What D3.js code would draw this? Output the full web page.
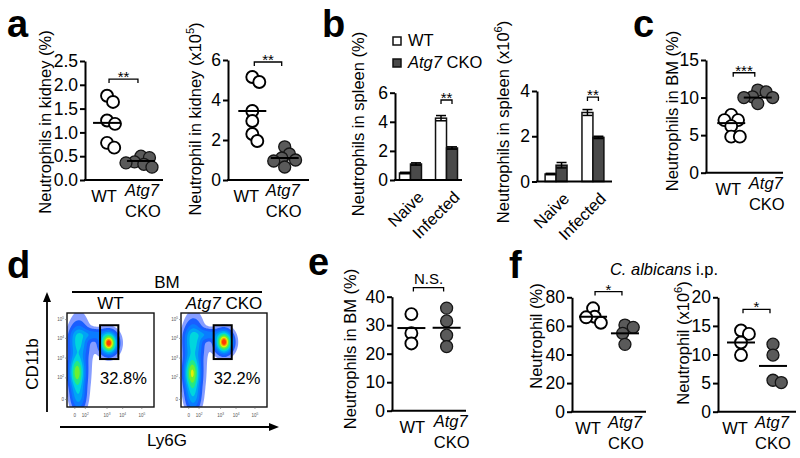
<!DOCTYPE html>
<html><head><meta charset="utf-8">
<script src="https://cdn.jsdelivr.net/npm/d3@7"></script>
<style>
body{margin:0;background:#fff}
svg{display:block;font-family:"Liberation Sans",Arial,Helvetica,sans-serif}
</style></head><body>
<svg id="chart" width="800" height="458"></svg>
<script>
// ================= DATA =================
const dotGroups = ["WT", "Atg7 CKO"];

// a (left) – neutrophils in kidney (%)
const kidneyPctTicks = [0, 0.5, 1.0, 1.5, 2.0, 2.5];
const kidneyPctWT  = [1.77, 1.64, 1.25, 1.18, 0.78, 0.68];
const kidneyPctCKO = [0.50, 0.47, 0.38, 0.36, 0.33, 0.27];
const kidneyPctLine = [1.2, 0.4];

// a (right) – neutrophil in kidney (x10^5)
const kidneyCntTicks = [0, 2, 4, 6];
const kidneyCntWT  = [5.15, 4.9, 3.45, 2.95, 2.3, 1.95];
const kidneyCntCKO = [1.66, 1.3, 1.1, 1.0, 0.95, 0.65];
const kidneyCntLine = [3.45, 1.1];

// b – spleen bars
const spleenGroups = ["Naive", "Infected"];
const spleenSeries = ["WT", "Atg7 CKO"];
const spleenPctTicks = [0, 2, 4, 6];
const spleenPctWT     = [0.48, 4.25];
const spleenPctWTErr  = [0.05, 0.18];
const spleenPctCKO    = [1.1, 2.2];
const spleenPctCKOErr = [0.08, 0.08];
const spleenCntTicks = [0, 2, 4];
const spleenCntWT     = [0.33, 3.05];
const spleenCntWTErr  = [0.03, 0.13];
const spleenCntCKO    = [0.72, 1.95];
const spleenCntCKOErr = [0.12, 0.05];

// c – neutrophils in BM (%)
const bmTicks = [0, 5, 10, 15];
const bmWT  = [7.7, 7.0, 7.0, 6.2, 4.8, 4.8];
const bmCKO = [11.0, 10.75, 10.0, 10.1, 10.0, 9.2];
const bmLine = [6.6, 10.0];

// d – flow cytometry (BM)
const flowSamples = ["WT", "Atg7 CKO"];
const flowPercent = ["32.8%", "32.2%"];
const flowTickText = ["0", "10", "10", "10", "10"];
const flowTickExp  = ["", "2", "3", "4", "5"];
const flowXTickFrac = [0.09, 0.21, 0.46, 0.64, 0.86];
const flowYTickFrac = [0.08, 0.31, 0.52, 0.73, 0.93];
// gate: [u0, u1, v0, v1] in axis fractions
const flowGate = [0.38, 0.59, 0.51, 0.87];
// density clusters: [u, v, su, sv, weight]
const flowClustersWT = [
  [0.115, 0.37, 0.05, 0.11, 0.62],
  [0.13, 0.70, 0.06, 0.10, 0.30],
  [0.28, 0.77, 0.11, 0.04, 0.16],
  [0.48, 0.68, 0.05, 0.06, 1.0],
  [0.48, 0.68, 0.09, 0.10, 0.12],
  [0.13, 0.12, 0.05, 0.10, 0.22],
  [0.14, 0.50, 0.09, 0.32, 0.10]
];
const flowClustersCKO = [
  [0.13, 0.36, 0.05, 0.11, 0.66],
  [0.14, 0.70, 0.06, 0.11, 0.30],
  [0.29, 0.77, 0.11, 0.04, 0.16],
  [0.50, 0.69, 0.05, 0.06, 0.95],
  [0.50, 0.69, 0.09, 0.10, 0.12],
  [0.14, 0.12, 0.05, 0.10, 0.22],
  [0.15, 0.50, 0.09, 0.32, 0.10]
];

// e – neutrophils in BM (%)
const bm2Ticks = [0, 10, 20, 30, 40];
const bm2WT  = [33.9, 27.2, 23.6];
const bm2CKO = [36.0, 31.5, 26.5, 22.5];
const bm2Line = [29.0, 29.1];

// f – C. albicans i.p.
const fPctTicks = [0, 20, 40, 60, 80];
const fPctWT  = [72.3, 66.4, 66.0, 62.2];
const fPctCKO = [60.6, 59.0, 54.8, 47.1];
const fPctLine = [66.4, 54.8];
const fCntTicks = [0, 5, 10, 15, 20];
const fCntWT  = [14.2, 13.6, 12.1, 9.9];
const fCntCKO = [11.8, 9.9, 5.5, 5.1];
const fCntLine = [12.1, 8.0];

// ================= DRAWING =================
const svg = d3.select("#chart");
const FONT = '"Liberation Sans", Arial, Helvetica, sans-serif';
const OPEN = {fill: "#fff", stroke: "#000", sw: 1.9};
const FILLED = {fill: "#5a5a5a", stroke: "#151515", sw: 1.3};

function styleAxis(g) {
  g.attr("font-family", FONT).attr("font-size", 17.5);
  g.select(".domain").attr("stroke", "#000").attr("stroke-width", 2);
  g.selectAll(".tick line").attr("stroke", "#000").attr("stroke-width", 2);
  g.selectAll(".tick text").attr("fill", "#000");
}

function yLabel(lab, cx, cy) {
  const t = svg.append("text")
    .attr("transform", `translate(${cx},${cy}) rotate(-90)`)
    .attr("text-anchor", "middle").attr("dy", "0.35em")
    .attr("font-size", 16.5).attr("fill", "#000");
  t.append("tspan").text(lab.main);
  if (lab.sup) {
    t.append("tspan").attr("font-size", 11).attr("dy", -7).text(lab.sup);
    t.append("tspan").attr("dy", 7).text(lab.tail);
  }
}

function panelLetter(ch, x, y) {
  svg.append("text").attr("x", x).attr("y", y).attr("font-size", 38)
    .attr("font-weight", "bold").text(ch);
}

function bracket(xa, xb, yy, txt) {
  svg.append("path").attr("d", `M${xa},${yy + 4}V${yy}H${xb}V${yy + 4}`)
    .attr("fill", "none").attr("stroke", "#000").attr("stroke-width", 1.3);
  const ns = txt === "N.S.";
  svg.append("text").attr("x", (xa + xb) / 2).attr("y", ns ? yy - 4 : yy + 3)
    .attr("text-anchor", "middle").attr("font-size", 15).text(txt);
}

function swarm(values, y, r) {
  const pts = values.map(v => ({v, y: y(v), dx: 0})).sort((a, b) => a.y - b.y);
  const placed = [];
  for (const p of pts) {
    const cands = [0];
    for (const q of placed) {
      const dy = Math.abs(q.y - p.y);
      if (dy < 2 * r) {
        const d = Math.sqrt(4 * r * r - dy * dy);
        cands.push(q.dx + d, q.dx - d);
      }
    }
    cands.sort((a, b) => Math.abs(a) - Math.abs(b));
    for (const c of cands) {
      if (placed.every(q => (q.dx - c) ** 2 + (q.y - p.y) ** 2 >= 4 * r * r - 0.01)) { p.dx = c; break; }
    }
    placed.push(p);
  }
  return placed;
}

function groupLabels(x, yBot, off) {
  svg.append("text").attr("x", x("WT") + off[0]).attr("y", yBot + 22)
    .attr("text-anchor", "middle").attr("font-size", 16.5).text("WT");
  const cx = x("Atg7 CKO") + off[1];
  svg.append("text").attr("x", cx).attr("y", yBot + 16).attr("font-style", "italic")
    .attr("text-anchor", "middle").attr("font-size", 16.5).text("Atg7");
  svg.append("text").attr("x", cx + 1).attr("y", yBot + 37)
    .attr("text-anchor", "middle").attr("font-size", 16.5).text("CKO");
}

function dotPanel(c) {
  const y = d3.scaleLinear().domain([c.ticks[0], c.ticks[c.ticks.length - 1]]).range([c.yBot, c.yTop]);
  const x = d3.scalePoint().domain(dotGroups).range([c.x0, c.x1]).padding(c.pad);
  const ax = svg.append("g").attr("transform", `translate(${c.x0},0)`)
    .call(d3.axisLeft(y).tickValues(c.ticks).tickFormat(c.fmt || d3.format("d"))
      .tickSize(5).tickPadding(2).tickSizeOuter(0));
  styleAxis(ax);
  svg.append("line").attr("x1", c.x0 - 1).attr("x2", c.x1).attr("y1", c.yBot).attr("y2", c.yBot)
    .attr("stroke", "#000").attr("stroke-width", 2);
  [[c.wt, OPEN, "WT"], [c.cko, FILLED, "Atg7 CKO"]].forEach(([vals, st, grp]) => {
    const pts = swarm(vals, y, 4.3);
    svg.append("g").selectAll("circle").data(pts).join("circle")
      .attr("cx", d => x(grp) + d.dx).attr("cy", d => d.y).attr("r", 6)
      .attr("fill", st.fill).attr("stroke", st.stroke).attr("stroke-width", st.sw);
  });
  dotGroups.forEach((gname, i) => {
    svg.append("line").attr("x1", x(gname) - 14).attr("x2", x(gname) + 14)
      .attr("y1", y(c.lines[i])).attr("y2", y(c.lines[i]))
      .attr("stroke", "#000").attr("stroke-width", 2);
  });
  bracket(x("WT") + 2, x("Atg7 CKO") - 3, y(c.sigVal), c.sig);
  groupLabels(x, c.yBot, c.lblOff || [-4, 0]);
  yLabel(c.label, c.labelX, c.labelY);
}

function barPanel(c) {
  const y = d3.scaleLinear().domain([c.ticks[0], c.ticks[c.ticks.length - 1]]).range([c.yBot, c.yTop]);
  const x = d3.scaleBand().domain(spleenGroups).range([c.x0, c.x1]).paddingInner(c.pi).paddingOuter(c.po);
  const xs = d3.scaleBand().domain(spleenSeries).range([0, x.bandwidth()]);
  const ax = svg.append("g").attr("transform", `translate(${c.x0},0)`)
    .call(d3.axisLeft(y).tickValues(c.ticks).tickFormat(d3.format("d"))
      .tickSize(5).tickPadding(2).tickSizeOuter(0));
  styleAxis(ax);
  const rows = [];
  spleenGroups.forEach((g, i) => {
    rows.push({g, s: "WT", v: c.wt[i], e: c.wtErr[i], fill: "#fff"});
    rows.push({g, s: "Atg7 CKO", v: c.cko[i], e: c.ckoErr[i], fill: "#4a4a4a"});
  });
  const bg = svg.append("g");
  bg.selectAll("rect").data(rows).join("rect")
    .attr("x", d => x(d.g) + xs(d.s)).attr("width", xs.bandwidth())
    .attr("y", d => y(d.v)).attr("height", d => c.yBot - y(d.v))
    .attr("fill", d => d.fill).attr("stroke", "#111").attr("stroke-width", 1.5);
  const eg = svg.append("g").attr("stroke", "#000").attr("stroke-width", 1.5);
  rows.forEach(d => {
    const cx = x(d.g) + xs(d.s) + xs.bandwidth() / 2;
    eg.append("line").attr("x1", cx).attr("x2", cx).attr("y1", y(d.v - d.e)).attr("y2", y(d.v + d.e));
    eg.append("line").attr("x1", cx - 5).attr("x2", cx + 5).attr("y1", y(d.v + d.e)).attr("y2", y(d.v + d.e));
    eg.append("line").attr("x1", cx - 5).attr("x2", cx + 5).attr("y1", y(d.v - d.e)).attr("y2", y(d.v - d.e));
  });
  svg.append("line").attr("x1", c.x0 - 1).attr("x2", c.x1).attr("y1", c.yBot).attr("y2", c.yBot)
    .attr("stroke", "#000").attr("stroke-width", 2);
  spleenGroups.forEach(g => {
    const cx = x(g) + x.bandwidth() / 2;
    svg.append("text").attr("transform", `translate(${cx + 6},${c.yBot + 10}) rotate(-45)`)
      .attr("text-anchor", "end").attr("dy", "0.7em").attr("font-size", 16.5).text(g);
  });
  const inf = "Infected";
  bracket(x(inf) + xs("WT") + xs.bandwidth() / 2, x(inf) + xs("Atg7 CKO") + xs.bandwidth() / 2,
    y(c.sigVal), "**");
  yLabel(c.label, c.labelX, c.labelY);
}

// ---- panel a ----
panelLetter("a", 7, 37);
dotPanel({x0: 85, x1: 163, yTop: 61, yBot: 180, ticks: kidneyPctTicks, fmt: d3.format(".1f"),
  wt: kidneyPctWT, cko: kidneyPctCKO, lines: kidneyPctLine, pad: 0.65, sigVal: 2.12, sig: "**",
  lblOff: [-3, 1],
  label: {main: "Neutrophils in kidney (%)"}, labelX: 45, labelY: 122});
dotPanel({x0: 228, x1: 309, yTop: 60, yBot: 180, ticks: kidneyCntTicks,
  wt: kidneyCntWT, cko: kidneyCntCKO, lines: kidneyCntLine, pad: 0.75, sigVal: 5.9, sig: "**",
  lblOff: [-6, -2],
  label: {main: "Neutrophil in kidney (x10", sup: "5", tail: ")"}, labelX: 195, labelY: 119});

// ---- panel b ----
panelLetter("b", 322, 37);
svg.append("rect").attr("x", 393).attr("y", 37).attr("width", 8).attr("height", 8)
  .attr("fill", "#fff").attr("stroke", "#111").attr("stroke-width", 1.5);
svg.append("rect").attr("x", 393).attr("y", 59).attr("width", 8).attr("height", 8)
  .attr("fill", "#4a4a4a").attr("stroke", "#111").attr("stroke-width", 1.5);
svg.append("text").attr("x", 408).attr("y", 46).attr("font-size", 16.5).text(spleenSeries[0]);
{
  const t = svg.append("text").attr("x", 408).attr("y", 68).attr("font-size", 16.5);
  t.append("tspan").attr("font-style", "italic").text("Atg7");
  t.append("tspan").text(" CKO");
}
barPanel({x0: 395, x1: 462, yTop: 92.7, yBot: 180, ticks: spleenPctTicks, pi: 0.39, po: 0.125,
  wt: spleenPctWT, wtErr: spleenPctWTErr, cko: spleenPctCKO, ckoErr: spleenPctCKOErr, sigVal: 5.5,
  label: {main: "Neutrophils in spleen (%)"}, labelX: 358, labelY: 124});
barPanel({x0: 537, x1: 612, yTop: 91, yBot: 181.5, ticks: spleenCntTicks, pi: 0.405, po: 0.22,
  wt: spleenCntWT, wtErr: spleenCntWTErr, cko: spleenCntCKO, ckoErr: spleenCntCKOErr, sigVal: 3.73,
  label: {main: "Neutrophils in spleen (x10", sup: "6", tail: ")"}, labelX: 503, labelY: 122});

// ---- panel c ----
panelLetter("c", 633, 37);
dotPanel({x0: 706, x1: 783, yTop: 60, yBot: 172.7, ticks: bmTicks,
  wt: bmWT, cko: bmCKO, lines: bmLine, pad: 0.95, sigVal: 13.3, sig: "***",
  lblOff: [-3, 8],
  label: {main: "Neutrophils in BM (%)"}, labelX: 672, labelY: 111});

// ---- panel d (flow cytometry) ----
panelLetter("d", 7, 278);
const jet = d3.scaleLinear()
  .domain([0.0, 0.16, 0.32, 0.5, 0.7, 0.92])
  .range(["#2840ff", "#0090ff", "#00e0d8", "#40f040", "#f5f000", "#ff2a00"]);
const flowBoxes = [
  {x0: 67, x1: 154, clusters: flowClustersWT},
  {x0: 181, x1: 267, clusters: flowClustersCKO}
];
const fy0 = 313, fy1 = 407;
svg.append("text").attr("x", 167).attr("y", 288).attr("text-anchor", "middle").attr("font-size", 17).text("BM");
svg.append("line").attr("x1", 72).attr("x2", 262).attr("y1", 292).attr("y2", 292).attr("stroke", "#000").attr("stroke-width", 1.8);
flowBoxes.forEach((b, k) => {
  const w = b.x1 - b.x0, h = fy1 - fy0;
  const u = d3.scaleLinear().domain([0, 1]).range([b.x0, b.x1]);
  const v = d3.scaleLinear().domain([0, 1]).range([fy1, fy0]);
  const nx = Math.round(w), ny = Math.round(h);
  const vals = new Float64Array(nx * ny);
  for (let j = 0; j < ny; j++) for (let i = 0; i < nx; i++) {
    const uu = (i + 0.5) / nx, vv = 1 - (j + 0.5) / ny;
    let s = 0;
    for (const [cu, cv, su, sv, wt] of b.clusters)
      s += wt * Math.exp(-((uu - cu) ** 2 / (2 * su * su) + (vv - cv) ** 2 / (2 * sv * sv)));
    vals[j * nx + i] = s;
  }
  const mx = d3.max(vals);
  for (let q = 0; q < vals.length; q++) vals[q] /= mx;
  const th = [0.025, 0.06, 0.12, 0.2, 0.3, 0.42, 0.55, 0.68, 0.8, 0.9];
  const cont = d3.contours().size([nx, ny]).thresholds(th)(Array.from(vals));
  const path = d3.geoPath(d3.geoIdentity().scale(w / nx).translate([b.x0, fy0]));
  svg.append("g").selectAll("path").data(cont).join("path")
    .attr("d", path).attr("fill", d => jet(d.value))
    .attr("fill-opacity", d => d.value < 0.05 ? 0.55 : 1).attr("stroke", "none");
  svg.append("rect").attr("x", b.x0).attr("y", fy0).attr("width", w).attr("height", h)
    .attr("fill", "none").attr("stroke", "#111").attr("stroke-width", 1.4);
  svg.append("rect").attr("x", u(flowGate[0])).attr("y", v(flowGate[3]))
    .attr("width", u(flowGate[1]) - u(flowGate[0])).attr("height", v(flowGate[2]) - v(flowGate[3]))
    .attr("fill", "none").attr("stroke", "#000").attr("stroke-width", 2);
  svg.append("text").attr("x", u(0.38)).attr("y", 384).attr("font-size", 16.5).text(flowPercent[k]);
  const tx = (b.x0 + b.x1) / 2;
  if (k === 0) {
    svg.append("text").attr("x", tx).attr("y", 309).attr("text-anchor", "middle").attr("font-size", 17).text(flowSamples[0]);
  } else {
    const t = svg.append("text").attr("x", tx).attr("y", 309).attr("text-anchor", "middle").attr("font-size", 17);
    t.append("tspan").attr("font-style", "italic").text("Atg7");
    t.append("tspan").text(" CKO");
  }
  const tg = svg.append("g").attr("fill", "#555").attr("font-size", 4.5);
  flowXTickFrac.forEach((f, i) => {
    const t = tg.append("text").attr("x", u(f)).attr("y", fy1 + 10).attr("text-anchor", "middle").text(flowTickText[i]);
    if (flowTickExp[i]) t.append("tspan").attr("dy", -2).attr("font-size", 3.2).text(flowTickExp[i]);
    tg.append("line").attr("x1", u(f)).attr("x2", u(f)).attr("y1", fy1).attr("y2", fy1 + 2).attr("stroke", "#666").attr("stroke-width", 0.6);
  });
  flowYTickFrac.forEach((f, i) => {
    const t = tg.append("text").attr("x", b.x0 - 3).attr("y", v(f) + 1.5).attr("text-anchor", "end").text(flowTickText[i]);
    if (flowTickExp[i]) t.append("tspan").attr("dy", -2).attr("font-size", 3.2).text(flowTickExp[i]);
    tg.append("line").attr("x1", b.x0 - 2).attr("x2", b.x0).attr("y1", v(f)).attr("y2", v(f)).attr("stroke", "#666").attr("stroke-width", 0.6);
  });
});
svg.append("line").attr("x1", 47).attr("x2", 47).attr("y1", 412).attr("y2", 300).attr("stroke", "#000").attr("stroke-width", 1.8);
svg.append("path").attr("d", "M47,292L43,302L51,302Z").attr("fill", "#000");
svg.append("line").attr("x1", 60).attr("x2", 270).attr("y1", 427).attr("y2", 427).attr("stroke", "#000").attr("stroke-width", 1.8);
svg.append("path").attr("d", "M279,427L269,423L269,431Z").attr("fill", "#000");
svg.append("text").attr("transform", "translate(32,364) rotate(-90)").attr("text-anchor", "middle")
  .attr("dy", "0.35em").attr("font-size", 17).text("CD11b");
svg.append("text").attr("x", 167).attr("y", 446).attr("text-anchor", "middle").attr("font-size", 17).text("Ly6G");

// ---- panel e ----
panelLetter("e", 308, 275);
dotPanel({x0: 392, x1: 466, yTop: 296.7, yBot: 410.7, ticks: bm2Ticks,
  wt: bm2WT, cko: bm2CKO, lines: bm2Line, pad: 0.55, sigVal: 43.2, sig: "N.S.",
  lblOff: [1, 4],
  label: {main: "Neutrophils in BM (%)"}, labelX: 350, labelY: 349});

// ---- panel f ----
panelLetter("f", 509, 278);
{
  const t = svg.append("text").attr("x", 664).attr("y", 275).attr("text-anchor", "middle").attr("font-size", 16.5);
  t.append("tspan").attr("font-style", "italic").text("C. albicans");
  t.append("tspan").text(" i.p.");
}
dotPanel({x0: 572, x1: 646, yTop: 297.3, yBot: 411.7, ticks: fPctTicks,
  wt: fPctWT, cko: fPctCKO, lines: fPctLine, pad: 0.66, sigVal: 84, sig: "*",
  lblOff: [-5, 0],
  label: {main: "Neutrophil (%)"}, labelX: 536, labelY: 336});
dotPanel({x0: 718, x1: 796, yTop: 297.3, yBot: 411.7, ticks: fCntTicks,
  wt: fCntWT, cko: fCntCKO, lines: fCntLine, pad: 0.72, sigVal: 17.9, sig: "*",
  lblOff: [-6, -1],
  label: {main: "Neutrophil (x10", sup: "6", tail: ")"}, labelX: 683, labelY: 343});
</script>
</body></html>
